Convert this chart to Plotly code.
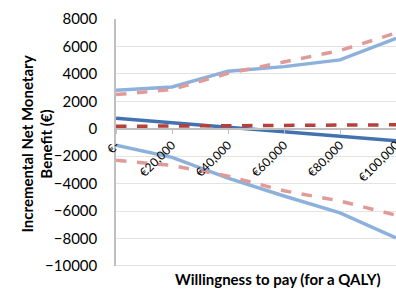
import plotly.graph_objects as go

wtp = [0, 20000, 40000, 60000, 80000, 100000]
tick_labels = ["€-", "€20,000", "€40,000", "€60,000", "€80,000", "€100,000"]

upper_ci_a = [2800, 3050, 4200, 4530, 5020, 6580]
upper_ci_b = [2490, 2860, 4040, 4900, 5700, 6980]
mean_a = [760, 430, 110, -210, -530, -870]
mean_b = [180, 200, 220, 240, 260, 290]
lower_ci_a = [-1200, -2080, -3600, -4900, -6130, -7950]
lower_ci_b = [-2300, -2670, -3450, -4520, -5260, -6300]

LB = "#8EB1DC"
PK = "#E09A98"
DB = "#4372B0"
DR = "#B5403C"

fig = go.Figure()
fig.add_trace(go.Scatter(x=wtp, y=upper_ci_a, mode="lines", line=dict(color=LB, width=3.5)))
fig.add_trace(go.Scatter(x=wtp, y=lower_ci_a, mode="lines", line=dict(color=LB, width=3.5)))
fig.add_trace(go.Scatter(x=wtp, y=upper_ci_b, mode="lines", line=dict(color=PK, width=3.5, dash="dash")))
fig.add_trace(go.Scatter(x=wtp, y=lower_ci_b, mode="lines", line=dict(color=PK, width=3.5, dash="dash")))
fig.add_trace(go.Scatter(x=wtp, y=mean_a, mode="lines", line=dict(color=DB, width=3.5)))
fig.add_trace(go.Scatter(x=wtp, y=mean_b, mode="lines", line=dict(color=DR, width=3.5, dash="dash")))

ymin, ymax = -10000, 8000
fig.update_layout(
    width=396, height=289,
    margin=dict(l=116, r=0, t=19, b=23),
    paper_bgcolor="white", plot_bgcolor="white",
    showlegend=False,
    font=dict(family="Lato, Open Sans, sans-serif", color="black"),
    xaxis=dict(
        range=[0, 100000],
        tickvals=wtp, ticktext=tick_labels,
        tickangle=-45, tickfont=dict(size=12),
        anchor="free", position=(0 - ymin) / (ymax - ymin),
        showgrid=False, zeroline=False, automargin=False,
        ticklabeloverflow="allow",
        showline=True, linecolor="#BFBFBF", linewidth=1.5,
        ticks="outside", ticklen=4, tickcolor="#BFBFBF",
    ),
    yaxis=dict(
        range=[ymin, ymax], dtick=2000, tickformat="d",
        tickfont=dict(size=15), automargin=False,
        showgrid=True, gridcolor="#E3E3E3", gridwidth=1,
        zeroline=False,
        showline=True, linecolor="#BFBFBF", linewidth=1.5,
        ticks="", ticklabelstandoff=14,
    ),
)
fig.add_shape(type="line", xref="paper", yref="y", x0=0, x1=1, y0=ymin, y1=ymin,
              line=dict(color="#D9D9D9", width=1.5))
fig.add_annotation(text="<b>Incremental Net Monetary<br>Benefit (€)</b>", xref="paper", yref="paper",
                   x=0, y=0.5, xshift=-80, yshift=-2, showarrow=False, font=dict(size=15),
                   textangle=-90, xanchor="center", yanchor="middle")
fig.add_annotation(text="<b>Willingness to pay (for a QALY)</b>", xref="paper", yref="paper",
                   x=0.58, y=0, yshift=-13, showarrow=False, font=dict(size=15),
                   xanchor="center", yanchor="middle")
fig.write_html("out.html", config={"displayModeBar": False},
               post_script="document.body.style.margin='0';document.body.style.overflow='hidden';")
